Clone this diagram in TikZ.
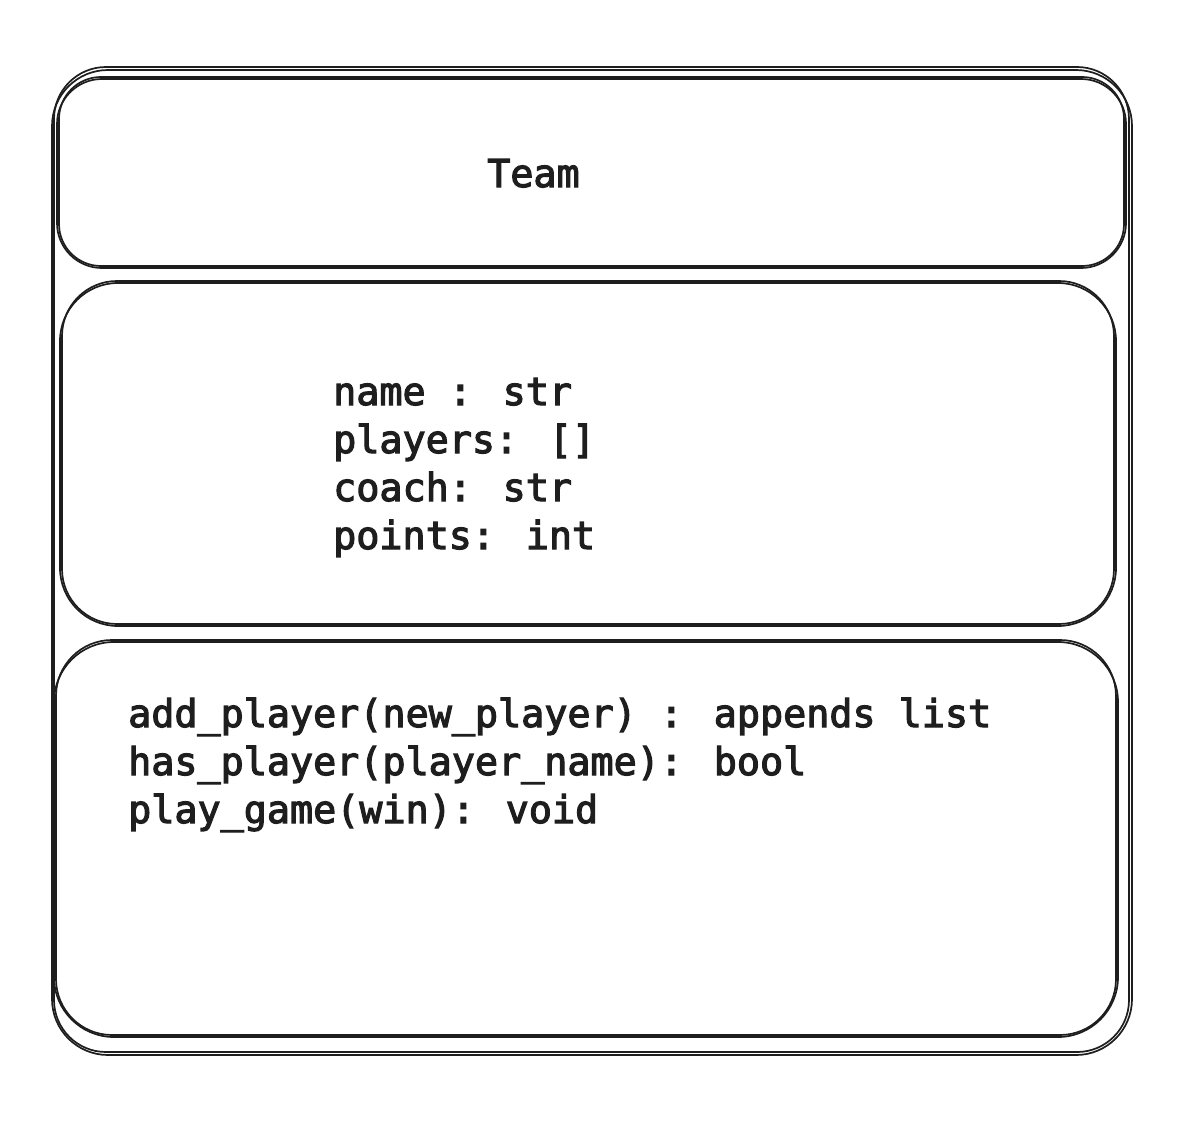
\documentclass[tikz,border=0pt]{standalone}
\usepackage{fontspec}
\newfontfamily\codefont[FakeBold=3]{DejaVu Sans Mono}
\definecolor{ink}{HTML}{1E1E1E}
\begin{document}
\begin{tikzpicture}[x=1pt,y=-1pt,
  sketch/.style={draw=ink, line width=1.7pt, line join=round},
  code/.style={anchor=base west, inner sep=0pt, text=ink,
    font=\codefont\fontsize{38.4}{48}\selectfont}]
\useasboundingbox[fill=white] (0,0) rectangle (1202,1124);

% class frame: two loose passes of the pen
\draw[sketch, rounded corners=56pt] (52,70) rectangle (1132,1055);
\draw[sketch, rounded corners=52pt] (54,67) rectangle (1129,1052);

% name compartment
\draw[sketch, rounded corners=45pt] (57,79) rectangle (1126,268);
\draw[sketch, rounded corners=42pt] (59,77) rectangle (1124,266);

% attribute compartment
\draw[sketch, rounded corners=58pt] (60,283) rectangle (1116,626);
\draw[sketch, rounded corners=55pt] (62,281) rectangle (1114,624);

% operation compartment
\draw[sketch, rounded corners=60pt] (54,642) rectangle (1118,1037);
\draw[sketch, rounded corners=56pt] (56,640) rectangle (1116,1035);

% class name
\node[code] (title) at (487,187) {Team};

% attributes
\node[code] (attr1) at (333,405) {name : str};
\node[code] (attr2) at (333,453) {players: []};
\node[code] (attr3) at (333,501) {coach: str};
\node[code] (attr4) at (333,549) {points: int};

% operations
\node[code] (op1) at (128,727) {add\_player(new\_player) : appends list};
\node[code] (op2) at (128,775) {has\_player(player\_name): bool};
\node[code] (op3) at (128,823) {play\_game(win): void};
\end{tikzpicture}
\end{document}
